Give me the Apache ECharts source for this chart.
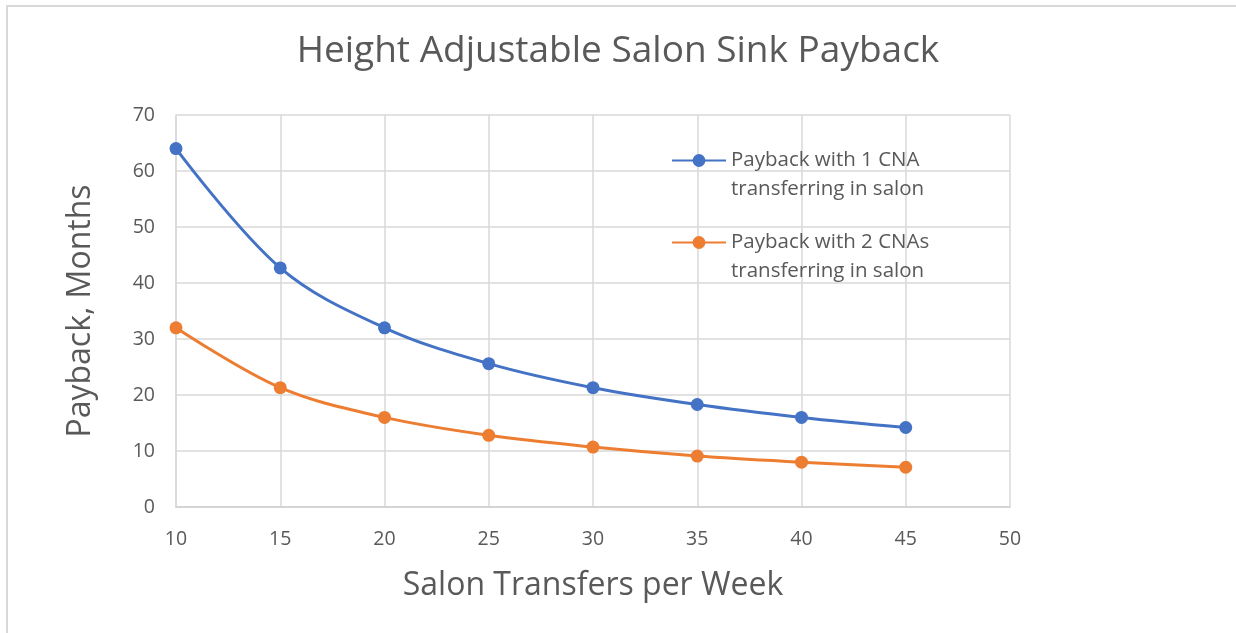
<!DOCTYPE html>
<html lang="en">
<head>
    <meta charset="UTF-8">
    <title>Height Adjustable Salon Sink Payback</title>
    <style type="text/css">
        *{
            margin: 0px;
            padding: 0px;
        }
        body{
            background: #fff;
        }
        #chart{
            width: 1236px;
            height: 633px;
        }
    </style>
</head>
<body>
<div id="chart"></div>
<script src="https://cdn.jsdelivr.net/npm/echarts@6/dist/echarts.min.js"></script>
<script type="text/javascript">
  // transfers per week
  var transfers = [10, 15, 20, 25, 30, 35, 40, 45];
  // payback in months
  var oneCna = [64, 42.7, 32, 25.6, 21.3, 18.3, 16, 14.2];
  var twoCna = [32, 21.3, 16, 12.8, 10.7, 9.1, 8, 7.1];
  var seriesNames = ['Payback with 1 CNA\ntransferring in salon', 'Payback with 2 CNAs\ntransferring in salon'];

  var font = '"Open Sans", sans-serif';
  var grey = '#595959';

  function pairs(xs, ys) {
    var out = [];
    for (var i = 0; i < xs.length; i++) {
      out.push([xs[i], ys[i]]);
    }
    return out;
  }

  // legend text is centred on the icon, a blank first line puts the icon on line one
  function legendItem(name, top) {
    return {
      data: [name],
      left: 666,
      top: top,
      itemWidth: 54,
      itemHeight: 16,
      itemGap: 0,
      formatter: function (n) { return ' \n' + n; },
      textStyle: { fontSize: 20.5, color: grey, lineHeight: 29, fontFamily: font }
    };
  }

  var myChart = echarts.init(document.getElementById('chart'));

  myChart.setOption({
    animation: false,
    textStyle: { fontFamily: font },
    graphic: [{
      type: 'rect',
      shape: { x: 7, y: 6, width: 1260, height: 660 },
      style: { fill: null, stroke: '#d9d9d9', lineWidth: 2 },
      silent: true
    }],
    title: {
      text: 'Height Adjustable Salon Sink Payback',
      left: 'center',
      top: 28,
      textStyle: { fontSize: 37, fontWeight: 'normal', color: grey, fontFamily: font }
    },
    legend: [
      legendItem(seriesNames[0], 112),
      legendItem(seriesNames[1], 194)
    ],
    grid: { left: 176, right: 226, top: 115, bottom: 126 },
    xAxis: {
      type: 'value',
      min: 10,
      max: 50,
      interval: 5,
      name: 'Salon Transfers per Week',
      nameLocation: 'middle',
      nameGap: 63,
      nameTextStyle: { fontSize: 32, color: grey, fontFamily: font },
      axisLine: { lineStyle: { color: '#d0d0d0', width: 1.5 } },
      axisTick: { show: false },
      axisLabel: { fontSize: 19.5, color: grey, margin: 22, fontFamily: font },
      splitLine: { show: true, lineStyle: { color: '#d9d9d9', width: 1.5 } }
    },
    yAxis: {
      type: 'value',
      min: 0,
      max: 70,
      interval: 10,
      name: 'Payback, Months',
      nameLocation: 'middle',
      nameGap: 79,
      nameTextStyle: { fontSize: 32, color: grey, fontFamily: font },
      axisLine: { show: true, lineStyle: { color: '#d9d9d9', width: 1.5 } },
      axisTick: { show: false },
      axisLabel: { fontSize: 19.5, color: grey, margin: 21, fontFamily: font },
      splitLine: { show: true, lineStyle: { color: '#d9d9d9', width: 1.5 } }
    },
    series: [
      {
        name: seriesNames[0],
        type: 'line',
        smooth: 0.35,
        data: pairs(transfers, oneCna),
        symbol: 'circle',
        symbolSize: 13,
        lineStyle: { color: '#4472C4', width: 3 },
        itemStyle: { color: '#4472C4' }
      },
      {
        name: seriesNames[1],
        type: 'line',
        smooth: 0.35,
        data: pairs(transfers, twoCna),
        symbol: 'circle',
        symbolSize: 13,
        lineStyle: { color: '#ED7D31', width: 3 },
        itemStyle: { color: '#ED7D31' }
      }
    ]
  });
</script>
</body>
</html>
